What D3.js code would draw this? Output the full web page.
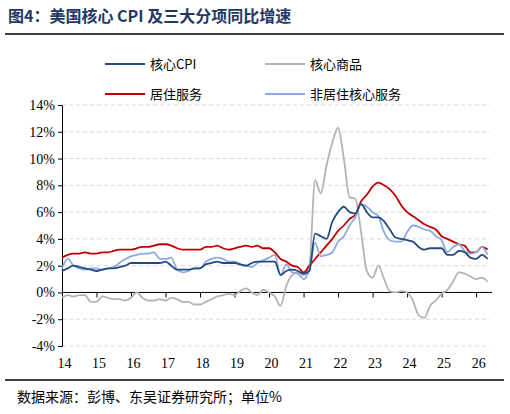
<!DOCTYPE html>
<html><head><meta charset="utf-8">
<script src="https://cdn.jsdelivr.net/npm/d3@7"></script>
<style>body{margin:0;background:#fff}</style>
</head><body>
<svg id="c" width="510" height="414"></svg>
<script>
// bimonthly readings (Jan, Mar, May, Jul, Sep, Nov), 2014-01 .. 2026-05
const coreCPI = [1.6,1.8,2.0,1.9,1.8,1.7, 1.6,1.7,1.8,1.8,1.9,2.0, 2.2,2.2,2.2,2.2,2.2,2.2,
  2.3,2.0,1.7,1.7,1.7,1.8, 1.8,2.1,2.2,2.3,2.2,2.2, 2.2,2.1,2.0,2.2,2.3,2.3,
  2.3,2.3,1.3,1.6,1.7,1.6, 1.4,1.6,4.4,4.2,4.0,5.3, 6.0,6.4,6.0,5.9,6.6,6.0,
  5.6,5.6,5.3,4.7,4.1,4.0, 3.9,3.8,3.4,3.2,3.3,3.3, 3.3,2.8,2.8,3.1,3.0,2.6, 2.5,2.8,2.5];
const coreGoods = [-0.4,-0.2,-0.3,-0.2,-0.2,-0.7, -0.7,-0.3,-0.4,-0.5,-0.5,-0.6, -0.4,0.0,-0.4,-0.6,-0.6,-0.5,
  -0.6,-0.4,-0.5,-0.7,-0.7,-0.9, -0.9,-0.7,-0.5,-0.3,-0.2,-0.1, -0.2,0.1,0.3,0.0,-0.2,0.2,
  0.0,-0.3,-1.0,0.5,1.3,1.5, 1.3,2.0,8.4,7.4,9.5,11.2, 12.3,10.0,7.1,7.0,4.5,1.6,
  1.1,2.0,1.0,0.1,0.0,0.1, 0.0,-0.6,-1.7,-1.9,-1.0,-0.6, -0.1,0.2,0.8,1.5,1.4,1.2, 1.0,1.1,0.8];
const shelter = [2.6,2.8,2.9,2.9,3.0,2.9, 2.9,3.0,3.0,3.1,3.2,3.2, 3.2,3.3,3.4,3.4,3.5,3.6,
  3.6,3.5,3.3,3.2,3.2,3.2, 3.2,3.4,3.4,3.5,3.3,3.2, 3.3,3.4,3.5,3.4,3.5,3.3,
  3.3,3.0,2.5,2.3,2.0,1.9, 1.5,2.0,2.5,3.0,3.5,4.0, 4.6,5.0,5.5,5.8,6.8,7.3,
  7.9,8.2,8.0,7.7,7.2,6.5, 6.0,5.7,5.4,5.1,4.9,4.7, 4.2,4.0,3.8,3.6,3.5,3.0, 3.0,3.4,3.2];
const superCore = [1.8,2.5,2.0,1.8,1.7,1.8, 1.8,1.7,1.8,1.9,2.2,2.5, 2.7,2.8,2.9,2.9,3.0,2.5,
  2.5,2.6,1.7,1.5,1.6,1.8, 1.8,2.3,2.5,2.6,2.5,2.3, 2.3,2.1,2.0,1.9,2.2,2.4,
  2.6,2.8,1.3,2.1,1.5,1.4, 1.0,1.7,3.7,2.7,2.8,3.0, 3.8,4.2,5.0,5.6,6.6,6.4,
  6.0,5.7,4.5,3.9,3.8,3.8, 4.5,5.0,4.9,4.7,4.6,4.2, 3.9,3.0,3.4,3.6,3.1,2.9, 3.0,3.4,2.8];
const years = d3.range(14, 27);
const yTicks = d3.range(-4, 15, 2);

const series = [
  {name: '核心CPI', data: coreCPI, color: '#24497f'},
  {name: '核心商品', data: coreGoods, color: '#b4b4b4'},
  {name: '居住服务', data: shelter, color: '#c00000'},
  {name: '非居住核心服务', data: superCore, color: '#8faadc'}
];

const svg = d3.select('#c');
const x = d3.scaleLinear().domain([2014, 2026.46]).range([62, 492]);
const y = d3.scaleLinear().domain([-4, 14]).range([346, 105]);
const t = i => 2014 + i / 6;

svg.append('text').attr('x', 8).attr('y', 22).attr('fill', '#1f3864')
  .attr('font-family', 'Noto Sans CJK SC').attr('font-weight', 'bold').attr('font-size', 16)
  .text('图4：美国核心 CPI 及三大分项同比增速');
svg.append('line').attr('x1', 5).attr('x2', 504).attr('y1', 34).attr('y2', 34).attr('stroke', '#000').attr('stroke-width', 1.5);
svg.append('line').attr('x1', 5).attr('x2', 504).attr('y1', 380).attr('y2', 380).attr('stroke', '#000').attr('stroke-width', 1.5);
svg.append('text').attr('x', 17).attr('y', 402).attr('font-family', 'Noto Sans CJK SC').attr('font-size', 14)
  .text('数据来源：彭博、东吴证券研究所；单位%');

// grid
svg.selectAll('.grid').data(yTicks.filter(d => d !== 0)).enter().append('line')
  .attr('x1', 62).attr('x2', 490).attr('y1', d => y(d)).attr('y2', d => y(d))
  .attr('stroke', '#d9d9d9').attr('stroke-dasharray', '4,3');

// y axis
const ya = svg.append('g').attr('transform', 'translate(62,0)')
  .call(d3.axisLeft(y).tickValues(yTicks).tickSize(4).tickFormat(d => d + '%'));
ya.selectAll('text').attr('font-family', 'Liberation Serif').attr('font-size', 14).attr('fill', '#000');
ya.selectAll('line,path').attr('stroke', '#000');

// x axis on zero line
const xa = svg.append('g').attr('transform', `translate(0,${y(0)})`)
  .call(d3.axisBottom(x).tickValues(years.map(d => 2000 + d)).tickSize(5).tickSizeOuter(0).tickFormat(d => d - 2000));
xa.select('.domain').attr('d', `M62,0H492`);
xa.selectAll('line,path').attr('stroke', '#000');
xa.selectAll('text').attr('font-family', 'Liberation Serif').attr('font-size', 14).attr('fill', '#000')
  .attr('dy', 0).attr('y', y(-4) - y(0) + 22).attr('dx', 2);

const line = d3.line().x((d, i) => x(t(i))).y(d => y(d)).curve(d3.curveMonotoneX);
[1, 2, 3, 0].forEach(k => {
  svg.append('path').datum(series[k].data).attr('d', line).attr('fill', 'none')
    .attr('stroke', series[k].color).attr('stroke-width', 1.8);
});

// legend
const lg = svg.selectAll('.lg').data(series).enter().append('g')
  .attr('transform', (d, i) => `translate(${i % 2 ? 265 : 105},${i < 2 ? 64 : 94})`);
lg.append('line').attr('x2', 40).attr('stroke', d => d.color).attr('stroke-width', 2);
lg.append('text').attr('x', 45).attr('y', 5).attr('font-family', 'Noto Sans CJK SC').attr('font-size', 13)
  .text(d => d.name);
</script>
</body></html>
